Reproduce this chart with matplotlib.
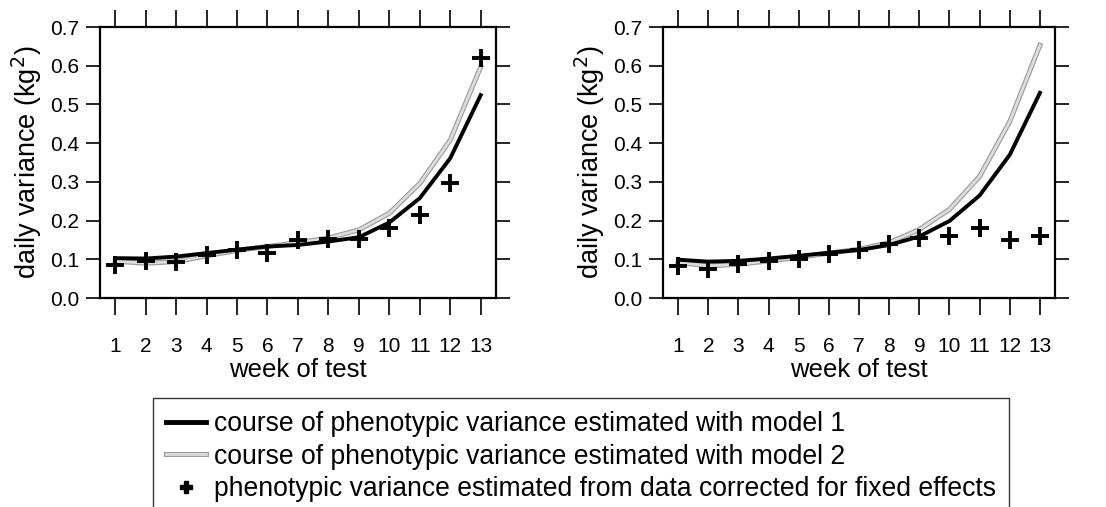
import matplotlib
matplotlib.use('Agg')
import matplotlib.pyplot as plt
import matplotlib.patheffects as pe
from matplotlib.lines import Line2D

plt.rcParams['font.family'] = ['Liberation Sans', 'DejaVu Sans']

weeks = list(range(1, 14))

# left panel
left_model1 = [0.103, 0.102, 0.107, 0.116, 0.125, 0.133, 0.137, 0.146, 0.157, 0.195, 0.258, 0.361, 0.524]
left_model2 = [0.095, 0.090, 0.094, 0.109, 0.123, 0.133, 0.143, 0.155, 0.176, 0.219, 0.296, 0.408, 0.597]
left_data = [0.085, 0.095, 0.093, 0.112, 0.123, 0.116, 0.149, 0.152, 0.152, 0.180, 0.215, 0.298, 0.619]

# right panel
right_model1 = [0.099, 0.094, 0.096, 0.102, 0.109, 0.117, 0.124, 0.137, 0.159, 0.199, 0.265, 0.370, 0.530]
right_model2 = [0.092, 0.083, 0.087, 0.096, 0.105, 0.116, 0.126, 0.143, 0.177, 0.229, 0.314, 0.456, 0.653]
right_data = [0.083, 0.076, 0.089, 0.096, 0.102, 0.113, 0.124, 0.139, 0.156, 0.159, 0.182, 0.150, 0.159]

yticks = [0.0, 0.1, 0.2, 0.3, 0.4, 0.5, 0.6, 0.7]

legend_labels = [
    'course of phenotypic variance estimated with model 1',
    'course of phenotypic variance estimated with model 2',
    'phenotypic variance estimated from data corrected for fixed effects',
]

gray_fx = [pe.Stroke(linewidth=3.6, foreground='#9a9a9a'), pe.Normal()]

fig = plt.figure(figsize=(11.06, 5.07), dpi=100)
ax1 = fig.add_axes([0.0904, 0.4122, 0.358, 0.5345])
ax2 = fig.add_axes([0.5995, 0.4122, 0.3544, 0.5345])

for ax, m1, m2, d in [(ax1, left_model1, left_model2, left_data),
                      (ax2, right_model1, right_model2, right_data)]:
    ax.plot(weeks, m2, color='#dcdcdc', lw=2.0, path_effects=gray_fx, zorder=2)
    ax.plot(weeks, m1, color='black', lw=2.8, zorder=3)
    ax.plot(weeks, d, ls='none', marker='+', ms=13, mew=2.8, color='black', zorder=4)
    ax.set_xlim(0.5, 13.5)
    ax.set_ylim(0, 0.7)
    ax.set_xticks(weeks)
    ax.set_yticks(yticks)
    ax.set_yticklabels(['%.1f' % t for t in yticks])
    ax.tick_params(axis='x', direction='out', length=12, width=1.2, pad=16,
                   labelsize=15, top=True, bottom=True)
    ax.tick_params(axis='y', direction='out', length=10, width=1.2, pad=5,
                   labelsize=15, left=True, right=True)
    for s in ax.spines.values():
        s.set_linewidth(1.6)
    ax.set_xlabel('week of test', fontsize=18.5, labelpad=1.5)
    ax.set_ylabel('daily variance (kg$^2$)', fontsize=19.5, labelpad=4)

handles = [
    Line2D([], [], color='black', lw=3.5),
    Line2D([], [], color='#dcdcdc', lw=2.0, path_effects=gray_fx),
    Line2D([], [], ls='none', marker='P', ms=9, color='black'),
]
leg = fig.legend(handles, legend_labels, loc='upper left',
                 bbox_to_anchor=(153 / 1106, 1 - 398 / 507),
                 fontsize=19.1, frameon=True, fancybox=False, edgecolor='black',
                 handlelength=1.5, handletextpad=0.3, labelspacing=0.24,
                 borderpad=0.5, borderaxespad=0)
leg.get_frame().set_linewidth(1.0)

fig.savefig('out.png', dpi=100)
